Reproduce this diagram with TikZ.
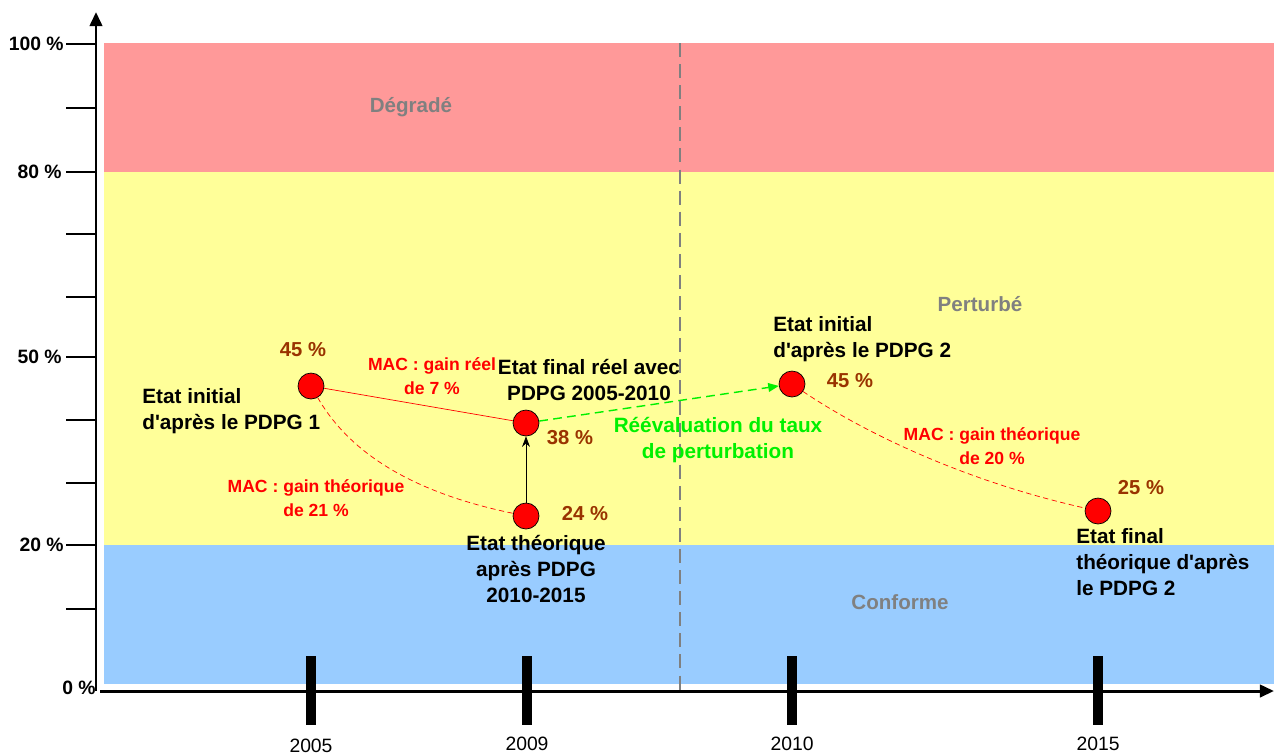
\documentclass[tikz,border=0pt]{standalone}
\usepackage{fontspec}
\setmainfont{Liberation Sans}
\usetikzlibrary{arrows.meta}
\definecolor{bandred}{RGB}{255,153,153}
\definecolor{bandyellow}{RGB}{255,255,153}
\definecolor{bandblue}{RGB}{153,204,255}
\definecolor{pctbrown}{RGB}{153,51,0}
\definecolor{macred}{RGB}{255,0,0}
\definecolor{reevalgreen}{RGB}{0,240,0}
\definecolor{bandgray}{RGB}{128,128,128}
\newcommand{\apos}{\textquotesingle}

\begin{document}
\begin{tikzpicture}[x=0.02cm,y=-0.02cm,
  etat/.style={circle, draw, thin, fill=red, minimum size=0.52cm, inner sep=0pt},
  pct/.style={text=pctbrown, font=\fontsize{11.5}{13}\selectfont\bfseries},
  lbl/.style={font=\fontsize{11.8}{15}\selectfont\bfseries, inner sep=0pt},
  mac/.style={text=macred, align=center, font=\fontsize{10}{13.5}\selectfont\bfseries},
  zone/.style={text=bandgray, font=\fontsize{11.7}{13}\selectfont\bfseries},
  year/.style={font=\fontsize{11}{13}\selectfont},
  yval/.style={anchor=east, font=\fontsize{11}{13}\selectfont\bfseries, inner sep=0pt},
  theo/.style={macred, densely dashed, thin}
]
\useasboundingbox (0,0) rectangle (1274,755);

% Bands
\fill[bandred] (104,43) rectangle (1274,172);
\fill[bandyellow] (104,172) rectangle (1274,545);
\fill[bandblue] (104,545) rectangle (1274,684);
\node[zone] (degrade) at (411,107) {Dégradé};
\node[zone] (perturbe) at (980,304) {Perturbé};
\node[zone] (conforme) at (900,602) {Conforme};

% Separation 2009 / 2010
\draw[bandgray, dash pattern=on 8pt off 4pt, thick] (680,43) -- (680,691);

% Axes
\draw[line width=1.7pt, -{Triangle[width=7pt,length=8pt]}] (96,691) -- (96,12);
\draw[line width=1.7pt, -{Triangle[width=7pt,length=8pt]}] (100,691) -- (1274,691);
\foreach \y in {44,108,172,234,297,357,420,483,545,609}
  \draw[thick] (66,\y) -- (96,\y);
\node[yval] (y100) at (64,44) {100 \%};
\node[yval] (y80) at (62,172) {80 \%};
\node[yval] (y50) at (62,357) {50 \%};
\node[yval] (y20) at (64,545) {20 \%};
\node[yval] (y0) at (96,688) {0 \%};

% Years
\foreach \x/\yr/\ly in {311/2005/746,527/2009/744,792/2010/744,1098/2015/744} {
  \fill (\x-5,656) rectangle (\x+5,725);
  \node[year] (an\yr) at (\x,\ly) {\yr};
}

% States
\node[etat] (ini1) at (311,386) {};
\node[etat] (reel) at (526,423) {};
\node[etat] (theo1) at (526,516) {};
\node[etat] (ini2) at (792,384) {};
\node[etat] (fin2) at (1098,511) {};

\node[pct] (p45a) at (303,350) {45 \%};
\node[pct] (p38) at (570,438) {38 \%};
\node[pct] (p24) at (585,514) {24 \%};
\node[pct] (p45b) at (850,381) {45 \%};
\node[pct] (p25) at (1141,488) {25 \%};

\node[lbl, anchor=west, align=left] (tini1) at (142,411) {Etat initial\\d\apos après le PDPG 1};
\node[lbl, align=center] (treel) at (589,380) {Etat final réel avec\\PDPG 2005-2010};
\node[lbl, align=center] (ttheo1) at (536,569) {Etat théorique\\après PDPG\\2010-2015};
\node[lbl, anchor=west, align=left] (tini2) at (773,339) {Etat initial\\d\apos après le PDPG 2};
\node[lbl, anchor=west, align=left] (tfin2) at (1076,562) {Etat final\\théorique d\apos après\\le PDPG 2};

% Gains
\draw[macred, thin] (ini1) -- (reel);
\draw[theo] (ini1) .. controls (345,445) and (400,490) .. (theo1);
\draw[theo] (ini2) .. controls (860,430) and (960,480) .. (fin2);
\draw[-{Stealth[length=6pt]}, thin] (theo1) -- (reel);
\draw[reevalgreen, dash pattern=on 5pt off 3pt, thick, -{Triangle[width=5pt,length=6pt]}] (reel) -- (ini2);

\node[mac] (mac7) at (432,376) {MAC : gain réel\\de 7 \%};
\node[mac] (mac21) at (316,498) {MAC : gain théorique\\de 21 \%};
\node[mac] (mac20) at (992,446) {MAC : gain théorique\\de 20 \%};
\node[text=reevalgreen, align=center, font=\fontsize{11.8}{15}\selectfont\bfseries] (reeval) at (718,440) {Réévaluation du taux\\de perturbation};
\end{tikzpicture}
\end{document}
